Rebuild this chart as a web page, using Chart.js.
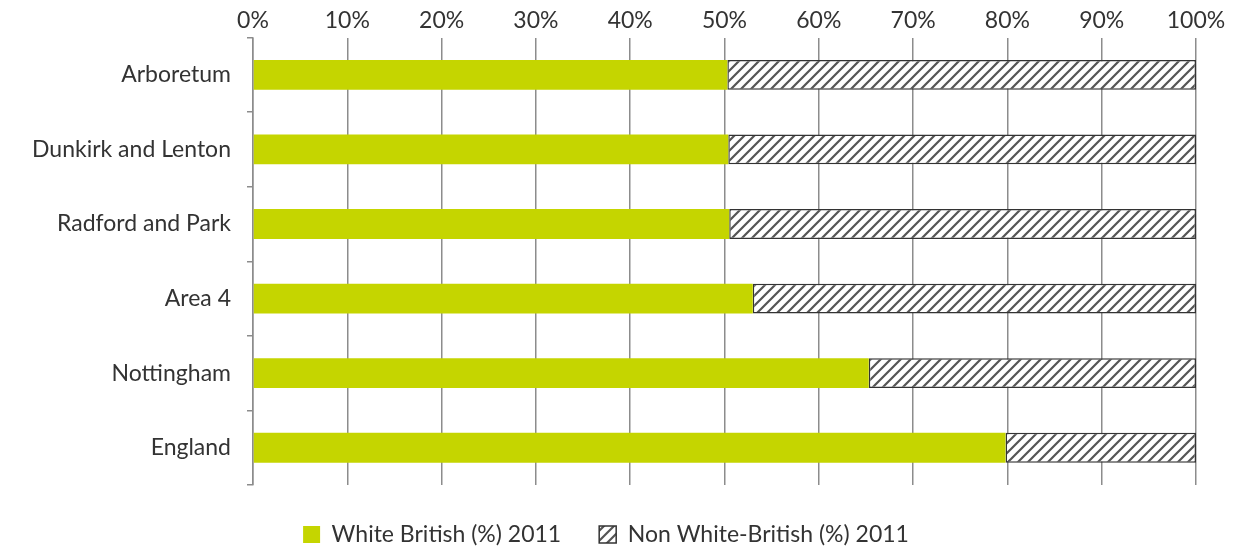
<!DOCTYPE html>
<html>
<head>
<meta charset="utf-8">
<script src="https://cdn.jsdelivr.net/npm/chart.js@4"></script>
<style>
  html, body { margin: 0; padding: 0; background: #fff; }
  #wrap { width: 1236px; height: 546px; }
</style>
</head>
<body>
<div id="wrap"><canvas id="chart"></canvas></div>
<script>
const areas = ["Arboretum", "Dunkirk and Lenton", "Radford and Park", "Area 4", "Nottingham", "England"];
const whiteBritish = [50.3, 50.4, 50.5, 53.0, 65.3, 79.8];
const nonWhiteBritish = [49.7, 49.6, 49.5, 47.0, 34.7, 20.2];
const seriesNames = ["White British (%) 2011", "Non White-British (%) 2011"];

// diagonal hatch fill for the second series
function hatch() {
  const c = document.createElement("canvas");
  c.width = 10; c.height = 10;
  const g = c.getContext("2d");
  g.fillStyle = "#fff";
  g.fillRect(0, 0, 10, 10);
  g.strokeStyle = "#555";
  g.lineWidth = 2.2;
  g.beginPath();
  g.moveTo(-2, 12); g.lineTo(12, -2);
  g.moveTo(-7, 7); g.lineTo(7, -7);
  g.moveTo(3, 17); g.lineTo(17, 3);
  g.stroke();
  return g.createPattern(c, "repeat");
}

// keep the legend strip a fixed height so the plot reaches further down
const legendHeight = {
  id: "legendHeight",
  beforeInit(chart) {
    const fit = chart.legend.fit;
    chart.legend.fit = function () {
      fit.bind(chart.legend)();
      this.height = 61;
    };
  },
};

const font = "Lato, 'Open Sans', sans-serif";
const ctx = document.getElementById("chart");

new Chart(ctx, {
  type: "bar",
  data: {
    labels: areas,
    datasets: [
      {
        label: seriesNames[0],
        data: whiteBritish,
        backgroundColor: "#c5d500",
        borderWidth: 0,
        barPercentage: 0.4,
        categoryPercentage: 1,
      },
      {
        label: seriesNames[1],
        data: nonWhiteBritish,
        backgroundColor: hatch(),
        borderColor: "#333",
        borderWidth: 1.5,
        borderSkipped: false,
        barPercentage: 0.4,
        categoryPercentage: 1,
      },
    ],
  },
  options: {
    indexAxis: "y",
    responsive: true,
    maintainAspectRatio: false,
    animation: false,
    layout: { padding: { left: 16, right: 40, top: 4, bottom: 0 } },
    scales: {
      x: {
        position: "top",
        stacked: true,
        min: 0,
        max: 100,
        ticks: {
          stepSize: 10,
          callback: (v) => v + "%",
          color: "#333",
          font: { family: font, size: 23 },
          padding: 3,
        },
        grid: { color: "#8c8c8c", lineWidth: 1.5, drawTicks: false },
        border: { display: false },
      },
      y: {
        stacked: true,
        ticks: {
          color: "#333",
          font: { family: font, size: 23 },
          padding: 16,
        },
        grid: { drawOnChartArea: false, color: "#8c8c8c", lineWidth: 1.5, tickLength: 6, offset: true },
        border: { color: "#8c8c8c", width: 1.5 },
      },
    },
    plugins: {
      legend: {
        position: "bottom",
        labels: {
          color: "#333",
          font: { family: font, size: 23 },
          boxWidth: 17,
          boxHeight: 17,
          padding: 38,
        },
      },
      tooltip: { enabled: false },
    },
  },
  plugins: [legendHeight],
});
</script>
</body>
</html>
